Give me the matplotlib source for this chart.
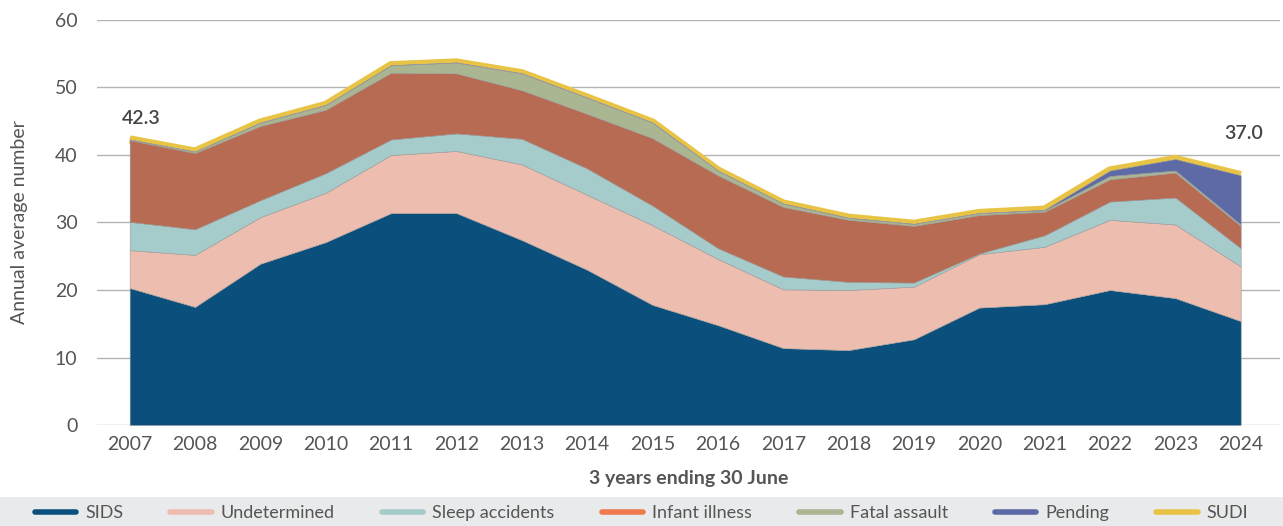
import matplotlib.pyplot as plt
from matplotlib.lines import Line2D
from matplotlib.patches import Rectangle

plt.rcParams['font.family'] = ['Lato', 'DejaVu Sans']

years = list(range(2007, 2025))
year_labels = [str(y) for y in years]

sids = [20.3, 17.5, 23.9, 27.1, 31.4, 31.4, 27.4, 23.0, 17.8, 14.8, 11.4, 11.1, 12.7, 17.4, 17.9, 20.0, 18.8, 15.4]
undetermined = [5.6, 7.7, 6.9, 7.3, 8.6, 9.2, 11.2, 11.1, 11.8, 9.8, 8.7, 8.9, 7.8, 7.9, 8.5, 10.4, 10.9, 8.1]
sleep_accidents = [4.2, 3.8, 2.5, 2.9, 2.3, 2.6, 3.8, 3.9, 2.9, 1.6, 1.9, 1.2, 0.6, 0.1, 1.7, 2.7, 4.0, 2.7]
infant_illness = [12.1, 11.3, 11.0, 9.4, 9.9, 8.9, 7.2, 8.1, 10.0, 10.8, 10.3, 9.2, 8.4, 5.7, 3.5, 3.3, 3.7, 3.3]
fatal_assault = [0.1, 0.2, 0.5, 0.7, 1.1, 1.6, 2.5, 2.4, 2.3, 0.7, 0.5, 0.3, 0.3, 0.3, 0.2, 0.5, 0.3, 0.2]
pending = [0, 0, 0, 0, 0, 0, 0, 0, 0, 0, 0, 0, 0, 0, 0.1, 0.8, 1.7, 7.3]

series = [sids, undetermined, sleep_accidents, infant_illness, fatal_assault, pending]
names = ["SIDS", "Undetermined", "Sleep accidents", "Infant illness", "Fatal assault", "Pending", "SUDI"]
sudi = [sum(v) for v in zip(*series)]

fill_colors = ["#0b507d", "#edbdaf", "#a6cbcb", "#b66b52", "#aab592", "#5d6aa6"]
key_colors = ["#0b507d", "#edbdaf", "#a6cbcb", "#f07a4e", "#aab592", "#5d6aa6", "#e8c446"]
text_grey = "#555555"

fig = plt.figure(figsize=(12.83, 5.26), dpi=100)
ax = fig.add_axes([0.0756, 0.192, 0.922, 0.770])

# SUDI total drawn underneath the stack so only its upper edge shows
ax.plot(years, sudi, color="#e8c446", lw=6, solid_capstyle="butt", solid_joinstyle="miter", zorder=2)
ax.stackplot(years, *series, colors=fill_colors, edgecolor="#9a9a9a", linewidth=0.4, zorder=3)

ax.set_xlim(2006.5, 2024.6)
ax.set_ylim(0, 60)
ax.set_yticks(range(0, 61, 10))
ax.set_xticks(years)
ax.set_xticklabels(year_labels)
ax.grid(axis="y", color="#b3b3b3", lw=1, zorder=0)
ax.set_axisbelow(True)
for s in ax.spines.values():
    s.set_visible(False)
ax.tick_params(axis="both", length=0, labelsize=14, labelcolor=text_grey)
ax.tick_params(axis="y", pad=14)
ax.tick_params(axis="x", pad=8)

ax.set_ylabel("Annual average number", fontsize=14, color=text_grey, labelpad=19)
ax.set_xlabel("3 years ending 30 June", fontsize=14, color=text_grey, fontweight="bold", labelpad=12)

ax.annotate(f"{sudi[0]:.1f}", (years[0], sudi[0]), xytext=(8, 9), textcoords="offset points",
            ha="center", va="bottom", fontsize=14, color="#444444", fontweight="semibold")
ax.annotate(f"{sudi[-1]:.1f}", (years[-1], sudi[-1]), xytext=(2, 24), textcoords="offset points",
            ha="center", va="bottom", fontsize=14, color="#444444", fontweight="semibold")

# legend strip along the bottom
fig.patches.append(Rectangle((0, 0), 1, 0.055, transform=fig.transFigure, facecolor="#e9eaeb",
                             edgecolor="none", zorder=0))
handles = [Line2D([0], [0], color=c, lw=4, solid_capstyle="round") for c in key_colors]
fig.legend(handles, names, loc="center", bbox_to_anchor=(0.5, 0.025), ncol=7, frameon=False,
           fontsize=13, labelcolor=text_grey, handlelength=2.3, columnspacing=2.6, handletextpad=0.5)

fig.savefig("out.png", dpi=100)
